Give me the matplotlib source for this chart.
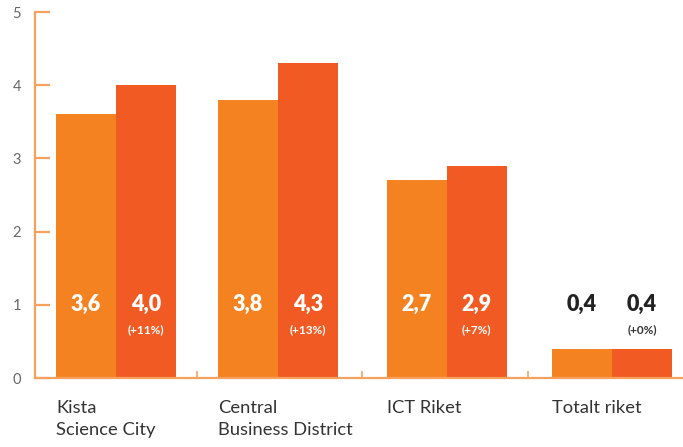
import matplotlib.pyplot as plt
import numpy as np

plt.rcParams['font.family'] = ['Lato', 'DejaVu Sans']

# Data
categories = ["Kista\nScience City", "Central\nBusiness District", "ICT Riket", "Totalt riket"]
before = [3.6, 3.8, 2.7, 0.4]
after = [4.0, 4.3, 2.9, 0.4]
before_labels = ["3,6", "3,8", "2,7", "0,4"]
after_labels = ["4,0", "4,3", "2,9", "0,4"]
change_labels = ["(+11%)", "(+13%)", "(+7%)", "(+0%)"]

c_before = "#F58220"
c_after = "#F15A22"
c_axis = "#F6A15E"

fig = plt.figure(figsize=(6.83, 4.47), dpi=100)
ax = fig.add_axes([35/683, (447-378)/447, (683-35)/683, (378-12)/447])

x = np.array([0, 0.98, 2.0, 3.0])
w = 0.363
ax.bar(x - w/2, before, w, color=c_before, zorder=2)
ax.bar(x + w/2, after, w, color=c_after, zorder=2)

for i in range(len(x)):
    inside = before[i] > 1.2
    col = "white" if inside else "#222222"
    ax.text(x[i] - w/2, 1.0, before_labels[i], ha="center", va="center", color=col,
            fontsize=15.5, fontweight="heavy")
    ax.text(x[i] + w/2, 1.0, after_labels[i], ha="center", va="center", color=col,
            fontsize=15.5, fontweight="heavy")
    ax.text(x[i] + w/2, 0.66, change_labels[i], ha="center", va="center",
            color=("white" if inside else "#333333"), fontsize=8.5, fontweight="bold")
    ax.text(x[i] - w, -0.3, categories[i], ha="left", va="top", color="#333333",
            fontsize=13.2, linespacing=1.45)

ax.set_xlim(-0.49, 3.43)
ax.set_ylim(0, 5)
ax.set_yticks(range(0, 6))
ax.set_xticks([0.49, 1.49, 2.49])
ax.set_xticklabels([])

for s in ["top", "right"]:
    ax.spines[s].set_visible(False)
for s in ["left", "bottom"]:
    ax.spines[s].set_color(c_axis)
    ax.spines[s].set_linewidth(1.6)

ax.tick_params(axis="y", direction="in", length=11, width=1.6, color=c_axis,
               labelcolor="#666666", labelsize=10.5, pad=10)
ax.tick_params(axis="x", direction="in", length=5, width=1.2, color=c_axis)

fig.savefig("out.png", dpi=100)
